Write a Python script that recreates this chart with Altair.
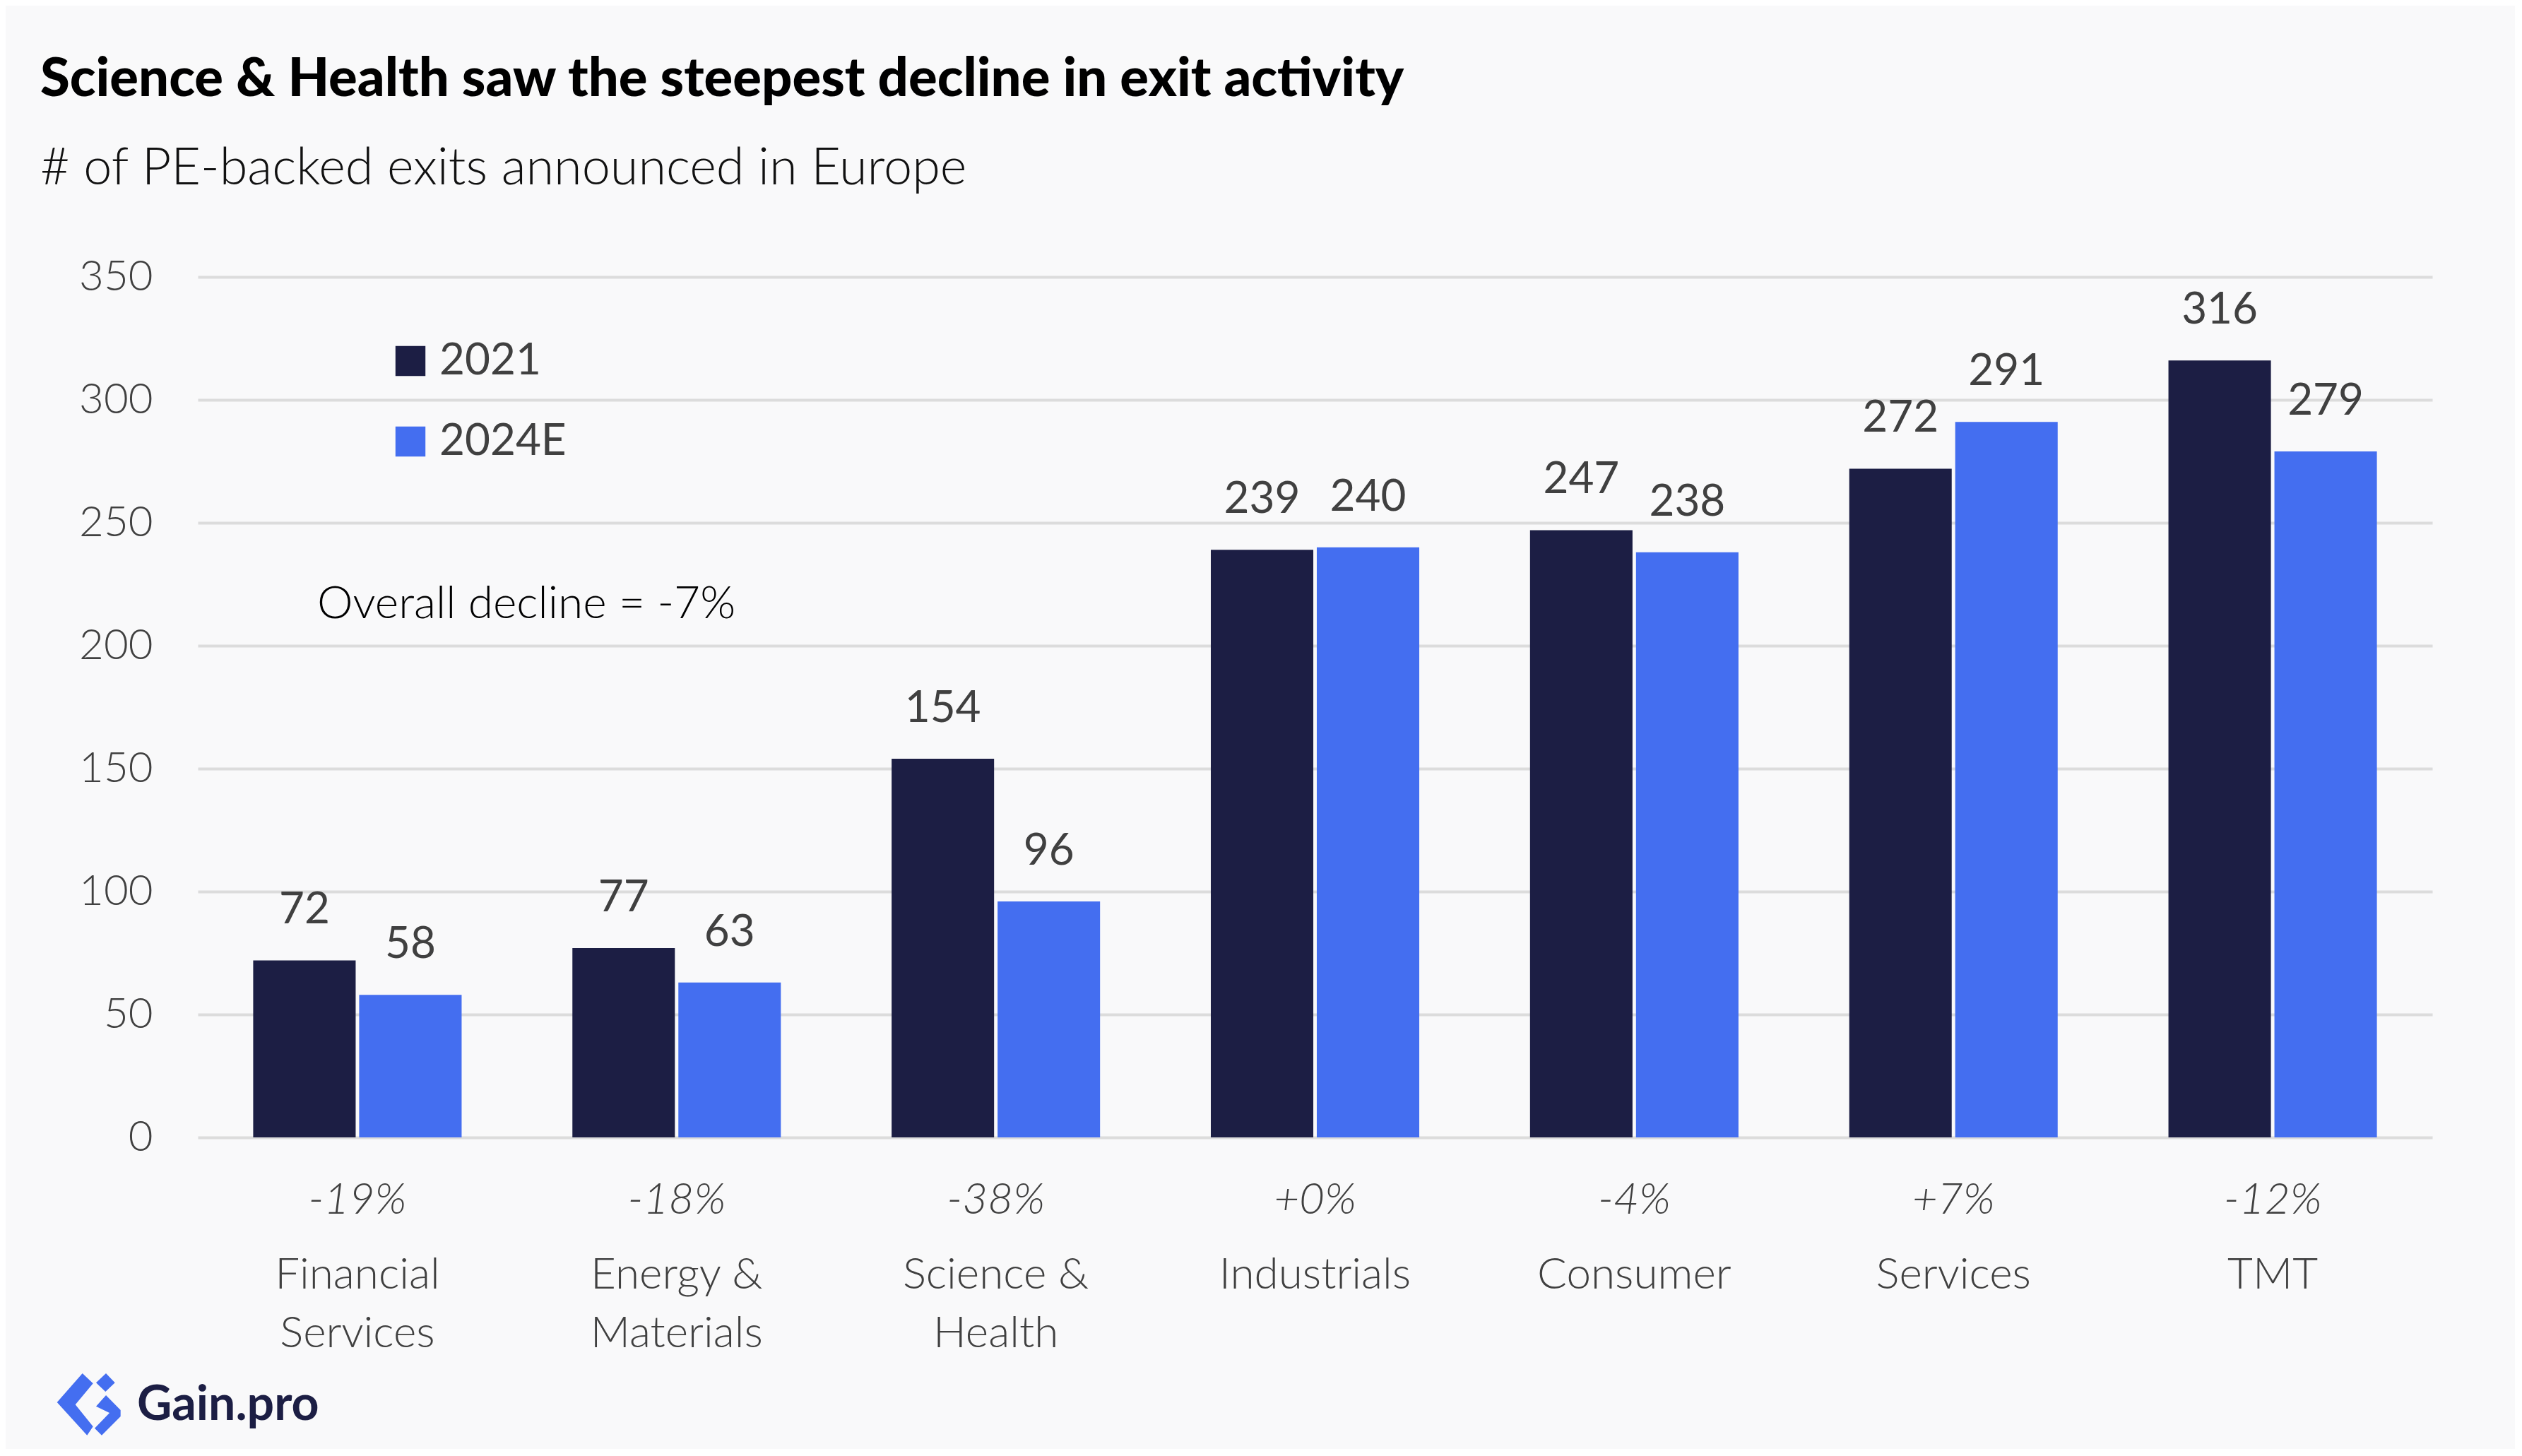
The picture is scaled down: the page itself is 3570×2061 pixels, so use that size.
import altair as alt
import pandas as pd

categories = ["Financial Services", "Energy & Materials", "Science & Health",
              "Industrials", "Consumer", "Services", "TMT"]
values_2021 = [72, 77, 154, 239, 247, 272, 316]
values_2024 = [58, 63, 96, 240, 238, 291, 279]
changes = ["-19%", "-18%", "-38%", "+0%", "-4%", "+7%", "-12%"]
series = ["2021", "2024E"]
colors = ["#1C1E44", "#446EF0"]

rows = []
for c, a, b in zip(categories, values_2021, values_2024):
    rows.append({"category": c, "series": series[0], "value": a})
    rows.append({"category": c, "series": series[1], "value": b})
df = pd.DataFrame(rows)
pct_df = pd.DataFrame({"category": categories, "change": changes})

FONT = "Lato"
W, H = 3163, 1218

x_enc = alt.X("category:N", sort=categories,
              scale=alt.Scale(paddingInner=0.347, paddingOuter=0.1735),
              axis=alt.Axis(title=None, domain=False, ticks=False, labelAngle=0,
                            labelFont=FONT, labelFontSize=62, labelColor="#404040",
                            labelFontWeight=300, labelLimit=0,
                            labelPadding=164, labelLineHeight=83,
                            labelBaseline="top",
                            labelExpr="split(replace(replace(datum.value, 'Financial ', 'Financial|'), '& ', '&|'), '|')"))
xoff = alt.XOffset("series:N", sort=series,
                   scale=alt.Scale(paddingInner=0.033, paddingOuter=0))
y_enc = alt.Y("value:Q", scale=alt.Scale(domain=[0, 350], nice=False),
              axis=alt.Axis(title=None, values=[0, 50, 100, 150, 200, 250, 300, 350],
                            domain=False, ticks=False, grid=True,
                            gridColor="#dcdcdc", gridWidth=4,
                            labelFont=FONT, labelFontSize=60, labelColor="#404040",
                            labelFontWeight=300, labelPadding=64))

bars = alt.Chart(df).mark_bar().encode(
    x=x_enc, xOffset=xoff, y=y_enc,
    color=alt.Color("series:N", sort=series,
                    scale=alt.Scale(domain=series, range=colors),
                    legend=alt.Legend(title=None, orient="none", legendX=270, legendY=88,
                                      symbolType="square", symbolSize=1800,
                                      symbolStrokeWidth=0, symbolOpacity=1,
                                      labelFont=FONT, labelFontSize=62, labelLimit=0,
                                      labelColor="#404040", labelOffset=10,
                                      rowPadding=52, padding=0)),
)

labels = alt.Chart(df).mark_text(baseline="bottom", dy=-39, font=FONT, fontSize=62,
                                 color="#404040").encode(
    x=alt.X("category:N", sort=categories), xOffset=alt.XOffset("series:N", sort=series),
    y="value:Q", text="value:Q")

pcts = alt.Chart(pct_df).mark_text(baseline="alphabetic", font=FONT, fontSize=62,
                                   fontStyle="italic", fontWeight=300,
                                   color="#404040").encode(
    x=alt.X("category:N", sort=categories), y=alt.value(1326), text="change:N")

note = alt.Chart(pd.DataFrame({"t": ["Overall decline = -7%"]})).mark_text(
    align="left", baseline="alphabetic", font=FONT, fontSize=64, fontWeight=300,
    color="#000000").encode(x=alt.value(169), y=alt.value(483), text="t:N")

logo_text = alt.Chart(pd.DataFrame({"t": ["Gain.pro"]})).mark_text(
    align="left", baseline="alphabetic", font=FONT, fontSize=68, fontWeight="bold",
    color="#1C1E44").encode(x=alt.value(-86), y=alt.value(1618), text="t:N")

ICON = ("M-0.184,-0.978 L0.149,-0.66 L-0.407,0.007 L0.149,0.696 L-0.038,0.971 L-0.984,-0.067 Z "
        "M0.556,-0.978 L0.838,-0.682 L0.54,-0.4 L0.244,-0.682 Z "
        "M0.556,-0.289 L1.015,0.178 L1.015,0.378 L0.422,0.971 L0.2,0.749 L0.667,0.267 L0.244,0.06 Z")
logo_icon = alt.Chart(pd.DataFrame({"t": ["a"]})).mark_point(
    shape=ICON, filled=True, fill="#446EF0", strokeWidth=0, size=8100, opacity=1).encode(
    x=alt.value(-155), y=alt.value(1596))

chart = alt.layer(bars, labels, pcts, note, logo_text, logo_icon).properties(
    width=W, height=H,
    title=alt.TitleParams(
        text="Science & Health saw the steepest decline in exit activity",
        subtitle="# of PE-backed exits announced in Europe",
        anchor="start", frame="group", dx=-223, offset=86,
        font=FONT, fontSize=76, fontWeight=900, color="#000000",
        subtitleFont=FONT, subtitleFontSize=72, subtitleFontWeight=300,
        subtitleColor="#111111", subtitlePadding=52),
    autosize=alt.AutoSizeParams(type="none"),
    padding={"left": 272, "top": 384, "right": 117, "bottom": 441},
).configure(background="#F9F9FA").configure_view(stroke=None)

chart.save("out.html", embed_options={"renderer": "svg", "actions": False})
